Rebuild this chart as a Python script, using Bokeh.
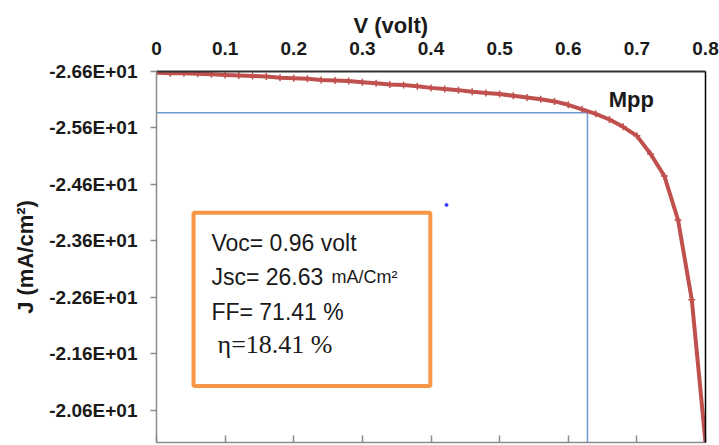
from bokeh.plotting import figure
from bokeh.models import Range1d, LinearAxis, FixedTicker, BoxAnnotation, Label, Title
from bokeh.embed import file_html
from bokeh.resources import INLINE

# ---- data ----
voltage = [0.00, 0.02, 0.04, 0.06, 0.08, 0.10, 0.12, 0.14, 0.16, 0.18,
           0.20, 0.22, 0.24, 0.26, 0.28, 0.30, 0.32, 0.34, 0.36, 0.38,
           0.40, 0.42, 0.44, 0.46, 0.48, 0.50, 0.52, 0.54, 0.56, 0.58,
           0.60, 0.62, 0.64, 0.66, 0.68, 0.70, 0.72, 0.74, 0.76, 0.78, 0.80]
current_density = [-26.58, -26.57, -26.57, -26.56, -26.55, -26.54, -26.53, -26.52, -26.51, -26.49,
                   -26.48, -26.47, -26.45, -26.44, -26.43, -26.41, -26.39, -26.37, -26.36, -26.34,
                   -26.31, -26.29, -26.27, -26.24, -26.22, -26.20, -26.17, -26.14, -26.11, -26.07,
                   -26.01, -25.93, -25.85, -25.75, -25.62, -25.46, -25.14, -24.75, -23.97, -22.56, -20.03]

v_mpp = 0.628
j_mpp = -25.87
stray_v = [0.4226]
stray_j = [-24.237]

x_ticks = [0, 0.1, 0.2, 0.3, 0.4, 0.5, 0.6, 0.7, 0.8]
x_tick_labels = ["0", "0.1", "0.2", "0.3", "0.4", "0.5", "0.6", "0.7", "0.8"]
y_ticks = [-26.6, -25.6, -24.6, -23.6, -22.6, -21.6, -20.6]
y_tick_labels = ["-2.66E+01", "-2.56E+01", "-2.46E+01", "-2.36E+01",
                 "-2.26E+01", "-2.16E+01", "-2.06E+01"]

x_min, x_max = 0.0, 0.8
y_top, y_bottom = -26.6, -20.03

SANS = "Liberation Sans"
SERIF = "Liberation Serif"
RED = "#c0504d"
BLUE = "#6f9ad6"
ORANGE = "#f79646"
GRAY = "#8c8c8c"
INK = "#1a1a1a"

p = figure(width=719, height=445,
           x_range=Range1d(x_min, x_max), y_range=Range1d(y_bottom, y_top),
           x_axis_location="above", output_backend="svg", toolbar_location=None,
           min_border_left=156, min_border_right=14, min_border_top=71, min_border_bottom=3)
p.xgrid.visible = False
p.ygrid.visible = False
p.outline_line_color = None
p.background_fill_color = "white"
p.border_fill_color = "white"

# top x axis
xa = p.xaxis[0]
xa.ticker = FixedTicker(ticks=x_ticks)
xa.major_label_overrides = dict(zip(x_ticks, x_tick_labels))
xa.major_tick_in = 0
xa.major_tick_out = 0
xa.minor_tick_in = 0
xa.minor_tick_out = 0
xa.axis_line_color = "#333333"
xa.axis_line_width = 2
xa.major_label_standoff = 17
xa.major_label_text_font = SANS
xa.major_label_text_font_style = "bold"
xa.major_label_text_font_size = "19px"
xa.major_label_text_color = INK

p.title = Title(text="V (volt)", align="left", offset=197, standoff=2,
                text_font=SANS, text_font_style="bold", text_font_size="22px",
                text_color=INK)
p.title_location = "above"

# left y axis
ya = p.yaxis[0]
ya.ticker = FixedTicker(ticks=y_ticks)
ya.major_label_overrides = dict(zip(y_ticks, y_tick_labels))
ya.major_tick_out = 6
ya.major_tick_in = 0
ya.minor_tick_in = 0
ya.minor_tick_out = 0
ya.axis_line_color = GRAY
ya.axis_line_width = 1.5
ya.major_tick_line_color = GRAY
ya.major_tick_line_width = 1.5
ya.major_label_standoff = 13
ya.major_label_text_font = SANS
ya.major_label_text_font_style = "bold"
ya.major_label_text_font_size = "19px"
ya.major_label_text_color = INK
ya.axis_label = "J (mA/cm²)"
ya.axis_label_standoff = 8
ya.axis_label_text_font = SANS
ya.axis_label_text_font_style = "bold"
ya.axis_label_text_font_size = "22px"
ya.axis_label_text_color = INK

# bottom axis: unlabelled ticks (drawn as minor ticks, so no labels)
xb = LinearAxis(ticker=FixedTicker(ticks=[], minor_ticks=x_ticks))
xb.major_tick_in = 0
xb.major_tick_out = 0
xb.minor_tick_in = 7
xb.minor_tick_out = 0
xb.minor_tick_line_color = GRAY
xb.minor_tick_line_width = 1.5
xb.axis_line_color = GRAY
xb.axis_line_width = 1.5
xb.major_label_standoff = 0
p.add_layout(xb, "below")

# right border
yr = LinearAxis(ticker=FixedTicker(ticks=[]))
yr.major_tick_in = 0
yr.major_tick_out = 0
yr.minor_tick_in = 0
yr.minor_tick_out = 0
yr.major_label_standoff = 0
yr.axis_line_color = "black"
yr.axis_line_width = 1.5
p.add_layout(yr, "right")

# Mpp guide lines
p.line([x_min, v_mpp, v_mpp], [j_mpp, j_mpp, y_bottom], line_color=BLUE, line_width=1.5)

# J-V curve
p.line(voltage, current_density, line_color=RED, line_width=4)
p.scatter(voltage, current_density, marker="cross", size=7, line_color=RED, line_width=1.5)

# stray dot
p.scatter(stray_v, stray_j, marker="circle", size=3, color="#3a3aff")

# info box
box = BoxAnnotation(left=0.054, right=0.399, top=-24.10, bottom=-21.03,
                    fill_color="white", fill_alpha=0.0,
                    line_color=ORANGE, line_alpha=1.0, line_width=4)
p.add_layout(box)

def lab(x, y, text, size="23px", font=SANS, style="normal"):
    p.add_layout(Label(x=x, y=y, text=text, text_baseline="alphabetic",
                       text_font=font, text_font_size=size, text_font_style=style,
                       text_color=INK))

lab(0.080, -23.57, "Voc= 0.96  volt")
lab(0.080, -22.96, "Jsc= 26.63")
lab(0.255, -22.96, "mA/Cm²", size="18px")
lab(0.080, -22.34, "FF= 71.41 %")
lab(0.089, -21.77, "η=18.41 %", size="26px", font=SERIF)
lab(0.659, -26.10, "Mpp", style="bold", size="22px")

open("out.html", "w").write(file_html(p, INLINE))
